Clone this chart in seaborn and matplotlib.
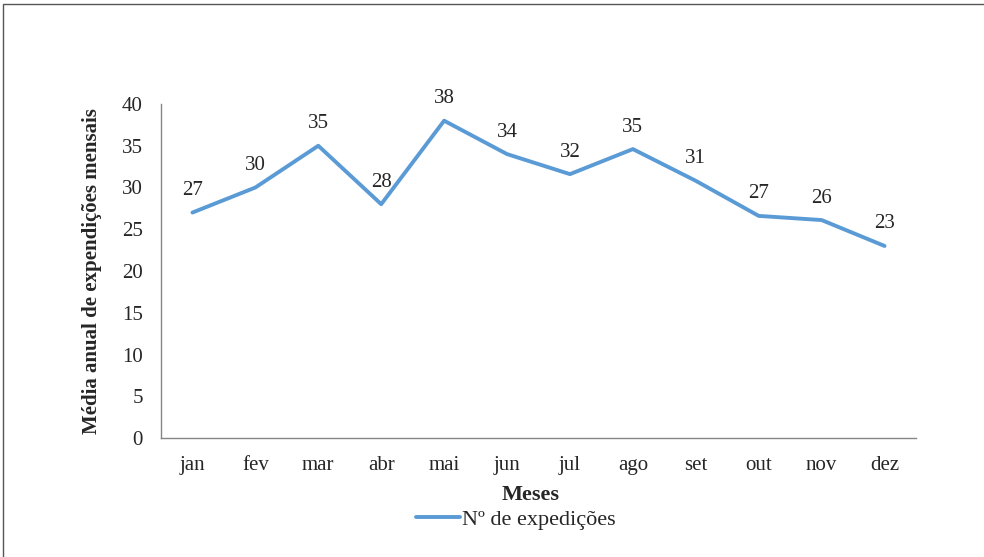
import pandas as pd
import seaborn as sns
import matplotlib.pyplot as plt
from matplotlib.patches import Rectangle

# data
meses = ['jan', 'fev', 'mar', 'abr', 'mai', 'jun', 'jul', 'ago', 'set', 'out', 'nov', 'dez']
expedicoes = [27.0, 30.0, 35.0, 28.0, 38.0, 34.0, 31.6, 34.6, 30.8, 26.6, 26.1, 23.0]
yticks = [0, 5, 10, 15, 20, 25, 30, 35, 40]

sns.set_style('white')
plt.rcParams['font.family'] = ['Liberation Serif', 'DejaVu Serif']

df = pd.DataFrame({'mes': meses, 'valor': expedicoes})
df['pos'] = range(len(df))

fig = plt.figure(figsize=(9.84, 5.57), dpi=100)
ax = fig.add_axes([161 / 984, 1 - 438 / 557, (916 - 161) / 984, (438 - 104) / 557])

sns.lineplot(data=df, x='pos', y='valor', ax=ax, color='#5B9BD5', linewidth=2.8,
             label='Nº de expedições', legend=False)

# data labels
for x, v in zip(df['pos'], df['valor']):
    ax.annotate('%.0f' % v, (x, v), xytext=(0, 9), textcoords='offset points',
                ha='center', va='bottom', fontsize=15)

ax.set_xlim(-0.5, len(meses) - 0.5)
ax.set_ylim(0, 40)
ax.set_xticks(df['pos'])
ax.set_xticklabels(meses)
ax.set_yticks(yticks)
ax.tick_params(labelsize=15, length=0)
ax.tick_params(axis='x', pad=13)
ax.tick_params(axis='y', pad=13)
for s in ['top', 'right']:
    ax.spines[s].set_visible(False)
for s in ['left', 'bottom']:
    ax.spines[s].set_color('#868686')
    ax.spines[s].set_linewidth(1.0)

ax.set_xlabel('Meses', fontsize=16, fontweight='bold', labelpad=7)
ax.xaxis.set_label_coords(0.49, -0.14)
ax.set_ylabel('Média anual de expendições mensais', fontsize=15, fontweight='bold', labelpad=14)

ax.legend(loc='center', bbox_to_anchor=(0.47, -0.245), frameon=False, fontsize=16,
          handlelength=2.0, handletextpad=0.1)

# frame around the figure
fig.patches.append(Rectangle((3 / 984, -0.1), 1.2, 1 - 4 / 557 + 0.1, transform=fig.transFigure,
                             fill=False, edgecolor='#555555', linewidth=1.0))

fig.savefig('out.png', dpi=100)
